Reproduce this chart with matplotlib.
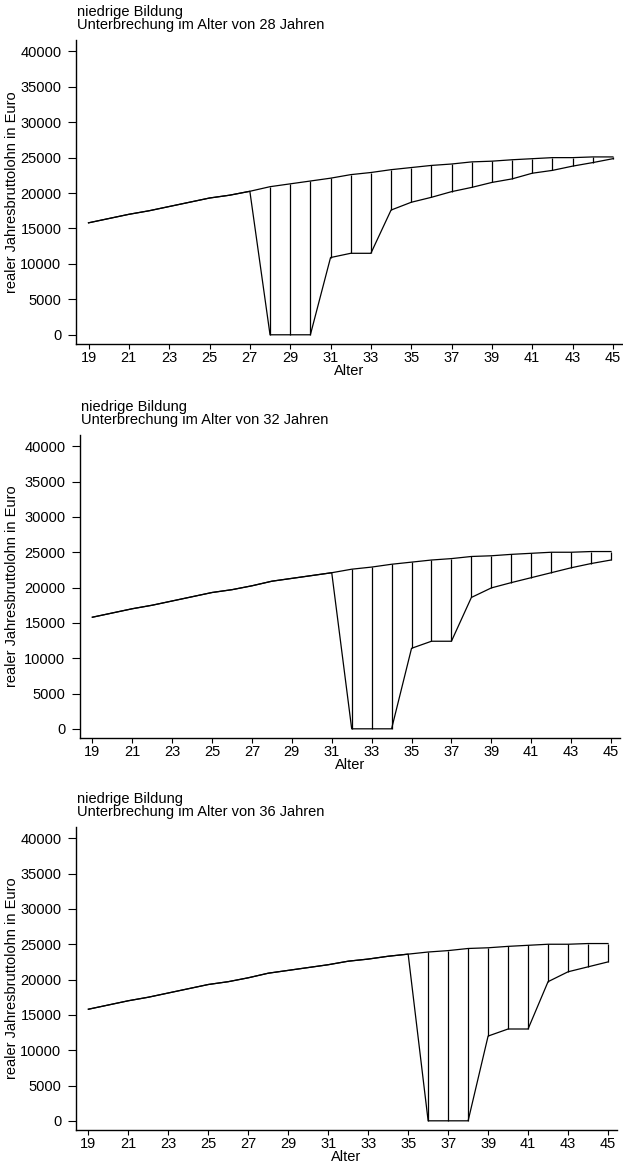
import matplotlib
matplotlib.use("Agg")
import matplotlib.pyplot as plt

plt.rcParams['font.family'] = ['Liberation Sans', 'DejaVu Sans']

ages = list(range(19, 46))
xticks = list(range(19, 46, 2))
yticks = [0, 5000, 10000, 15000, 20000, 25000, 30000, 35000, 40000]

baseline = [15800, 16400, 17000, 17500, 18100, 18700, 19300, 19700, 20250,
            20900, 21300, 21700, 22100, 22600, 22900, 23300, 23600, 23900,
            24100, 24400, 24500, 24700, 24850, 25000, 25000, 25100, 25100]

interrupt_28 = [15800, 16400, 17000, 17500, 18100, 18700, 19300, 19700, 20250,
                0, 0, 0, 10900, 11500, 11500, 17600, 18700, 19400,
                20200, 20800, 21500, 22000, 22800, 23200, 23800, 24300, 24850]

interrupt_32 = [15800, 16400, 17000, 17500, 18100, 18700, 19300, 19700, 20250,
                20900, 21300, 21700, 22100, 0, 0, 0, 11400, 12400,
                12400, 18600, 19950, 20700, 21400, 22100, 22800, 23400, 23900]

interrupt_36 = [15800, 16400, 17000, 17500, 18100, 18700, 19300, 19700, 20250,
                20900, 21300, 21700, 22100, 22600, 22900, 23300, 23600, 0,
                0, 0, 12000, 13000, 13000, 19700, 21100, 21800, 22500]

titles = ["Unterbrechung im Alter von 28 Jahren",
          "Unterbrechung im Alter von 32 Jahren",
          "Unterbrechung im Alter von 36 Jahren"]
series = [interrupt_28, interrupt_32, interrupt_36]

W, H = 623, 1164
fig = plt.figure(figsize=(W / 100, H / 100), dpi=100)

# axes boxes in pixels: left, right, top, bottom
boxes = [(76, 622, 40, 344), (80, 620, 435, 738), (76, 617, 827, 1130)]
FS = 10.5

for (l, r, t, b), inter, title in zip(boxes, series, titles):
    ax = fig.add_axes([l / W, 1 - b / H, (r - l) / W, (b - t) / H])
    ax.plot(ages, baseline, color='black', lw=0.9)
    ax.plot(ages, inter, color='black', lw=0.9)
    ax.vlines(ages, inter, baseline, color='black', lw=0.9)
    ax.set_xlim(18.38, 45.45)
    ax.set_ylim(-1300, 41600)
    ax.set_xticks(xticks)
    ax.set_yticks(yticks)
    ax.set_yticklabels([str(v) for v in yticks])
    for s in ['top', 'right']:
        ax.spines[s].set_visible(False)
    for s in ['left', 'bottom']:
        ax.spines[s].set_linewidth(1.0)
    ax.tick_params(axis='y', direction='out', length=6, width=0.8,
                   labelsize=FS, pad=4.5)
    ax.tick_params(axis='x', direction='out', length=3.5, width=0.8,
                   labelsize=FS, pad=1.5)
    ax.set_xlabel("Alter", fontsize=FS, labelpad=-1)
    fig.text(l / W + 0.002, 1 - (t - 28) / H, "niedrige Bildung", fontsize=FS,
             va='center', ha='left')
    fig.text(l / W + 0.002, 1 - (t - 15) / H, title, fontsize=FS,
             va='center', ha='left')
    fig.text(12 / W, 1 - ((t + b) / 2) / H, "realer Jahresbruttolohn in Euro",
             rotation=90, fontsize=FS, va='center', ha='center')

fig.savefig("out.png", dpi=100)
